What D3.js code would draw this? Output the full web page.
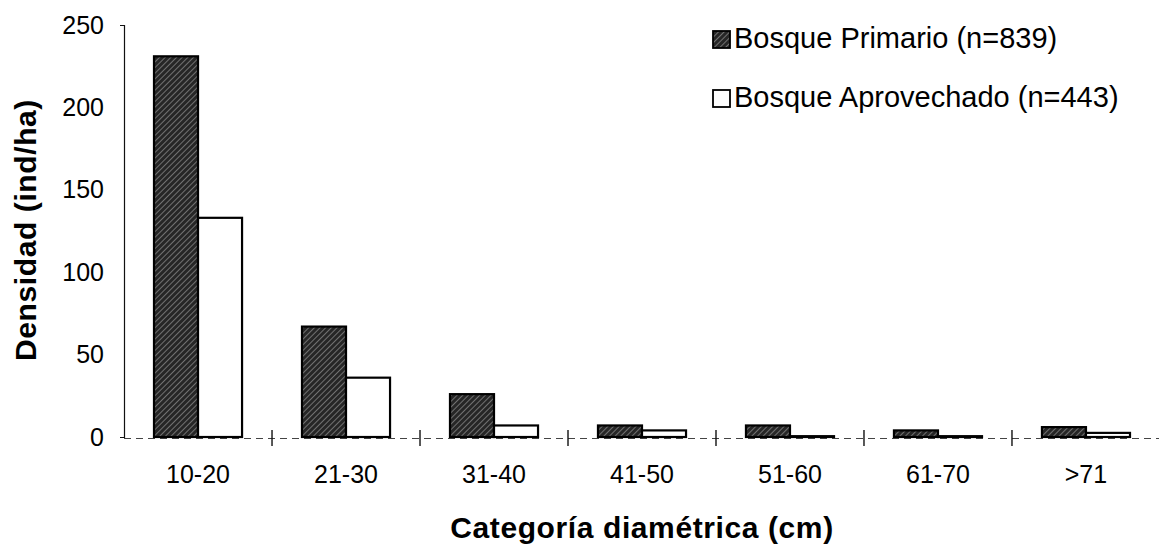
<!DOCTYPE html>
<html>
<head>
<meta charset="utf-8">
<script src="https://cdn.jsdelivr.net/npm/d3@7"></script>
<style>
  html, body { margin: 0; padding: 0; background: #fff; }
  svg { display: block; font-family: "Liberation Sans", Arial, sans-serif; }
</style>
</head>
<body>
<svg id="chart" width="1159" height="548"></svg>
<script>
// Diameter classes and stem density (ind/ha) for both forest types
const categories = ["10-20", "21-30", "31-40", "41-50", "51-60", "61-70", ">71"];
const primario = [231, 67, 26, 7, 7, 4, 6];
const aprovechado = [133, 36, 7, 4, 0.5, 0.5, 2.5];
const seriesNames = ["Bosque Primario (n=839)", "Bosque Aprovechado (n=443)"];
const yTicks = [0, 50, 100, 150, 200, 250];

const svg = d3.select("#chart");
const plotLeft = 124, plotRight = 1160, plotTop = 25, plotBottom = 437;

// hatched dark fill for the primary forest bars
const defs = svg.append("defs");
const pat = defs.append("pattern")
  .attr("id", "hatch")
  .attr("patternUnits", "userSpaceOnUse")
  .attr("width", 4).attr("height", 4)
  .attr("patternTransform", "rotate(45)");
pat.append("rect").attr("width", 4).attr("height", 4).attr("fill", "#262626");
pat.append("line").attr("x1", 0).attr("y1", 0).attr("x2", 0).attr("y2", 4)
  .attr("stroke", "#9a9a9a").attr("stroke-width", 1.3);

const x0 = d3.scaleBand().domain(categories).range([plotLeft, plotRight])
  .paddingInner(0.405).paddingOuter(0.2027);
const x1 = d3.scaleBand().domain([0, 1]).range([0, x0.bandwidth()]);
const y = d3.scaleLinear().domain([0, 250]).range([plotBottom, plotTop]);

// x baseline (dashed) with ticks at the class boundaries
const step = x0.step();
svg.append("line")
  .attr("x1", plotLeft).attr("x2", plotRight)
  .attr("y1", y(0) + 1.5).attr("y2", y(0) + 1.5)
  .attr("stroke", "#444").attr("stroke-width", 1)
  .attr("stroke-dasharray", "7,5");
const bounds = d3.range(categories.length).map(i => x0(categories[i]) - (step - x0.bandwidth()) / 2);
svg.selectAll(".xtick").data(bounds.slice(1)).join("line")
  .attr("class", "xtick")
  .attr("x1", d => d).attr("x2", d => d)
  .attr("y1", y(0) - 7).attr("y2", y(0) + 9)
  .attr("stroke", "#111").attr("stroke-width", 1.4);

// y axis
const yAxis = svg.append("g")
  .attr("transform", `translate(${plotLeft},0)`)
  .call(d3.axisLeft(y).tickValues(yTicks).tickSizeInner(0).tickSizeOuter(4).tickPadding(20));
yAxis.select(".domain").attr("stroke", "#111").attr("stroke-width", 1.2);
yAxis.selectAll("text")
  .attr("font-size", 25).attr("fill", "#000")
  .attr("font-family", "'Liberation Sans', Arial, sans-serif");

// bars
const data = categories.map((c, i) => ({ c, vals: [primario[i], aprovechado[i]] }));
const groups = svg.selectAll(".grp").data(data).join("g")
  .attr("class", "grp")
  .attr("transform", d => `translate(${x0(d.c)},0)`);
groups.selectAll("rect").data(d => d.vals.map((v, k) => ({ v, k }))).join("rect")
  .attr("x", d => x1(d.k))
  .attr("width", x1.bandwidth())
  .attr("y", d => y(d.v))
  .attr("height", d => y(0) - y(d.v))
  .attr("fill", d => d.k === 0 ? "url(#hatch)" : "#fff")
  .attr("stroke", "#000")
  .attr("stroke-width", 2.2);

// category labels
svg.selectAll(".xlab").data(categories).join("text")
  .attr("class", "xlab")
  .attr("x", d => x0(d) + x0.bandwidth() / 2)
  .attr("y", 483)
  .attr("text-anchor", "middle")
  .attr("font-size", 25)
  .text(d => d);

// axis titles
svg.append("text")
  .attr("x", (plotLeft + plotRight) / 2)
  .attr("y", 538)
  .attr("text-anchor", "middle")
  .attr("font-size", 30).attr("font-weight", "bold")
  .attr("letter-spacing", 0.6)
  .text("Categoría diamétrica (cm)");

svg.append("text")
  .attr("transform", "translate(36,230) rotate(-90)")
  .attr("text-anchor", "middle")
  .attr("font-size", 30).attr("font-weight", "bold")
  .attr("letter-spacing", 0.6)
  .text("Densidad (ind/ha)");

// legend
const legend = svg.append("g").attr("transform", "translate(713,31)");
const items = legend.selectAll("g").data(seriesNames).join("g")
  .attr("transform", (d, i) => `translate(0,${i * 59})`);
items.append("rect")
  .attr("width", 17).attr("height", 17)
  .attr("fill", (d, i) => i === 0 ? "url(#hatch)" : "#fff")
  .attr("stroke", "#000").attr("stroke-width", 1.8);
items.append("text")
  .attr("x", 21).attr("y", 17)
  .attr("font-size", 29)
  .text(d => d);
</script>
</body>
</html>
